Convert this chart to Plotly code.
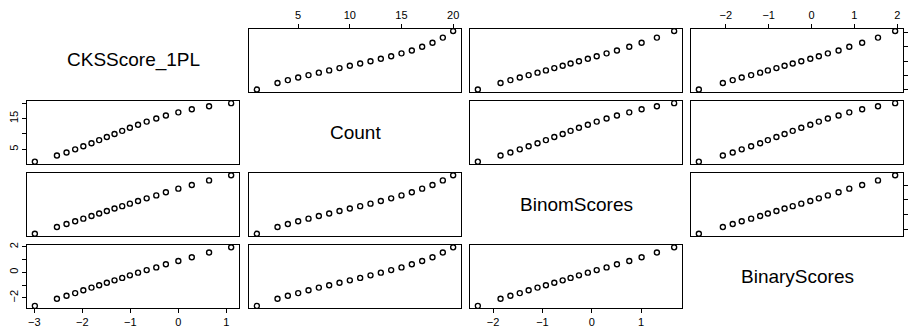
import plotly.graph_objects as go

# ---- data ----
var_names = ["CKSScore_1PL", "Count", "BinomScores", "BinaryScores"]
cks_score = [-2.99, -2.53, -2.33, -2.15, -1.98, -1.81, -1.65, -1.49, -1.33, -1.17,
             -1.01, -0.84, -0.66, -0.46, -0.26, 0.00, 0.28, 0.64, 1.10]
count = [1, 3, 4, 5, 6, 7, 8, 9, 10, 11, 12, 13, 14, 15, 16, 17, 18, 19, 20]
binom_scores = [-2.31, -1.85, -1.65, -1.46, -1.28, -1.10, -0.93, -0.76, -0.59, -0.43,
                -0.26, -0.08, 0.10, 0.30, 0.51, 0.76, 1.01, 1.32, 1.67]
binary_scores = [-2.63, -2.07, -1.84, -1.63, -1.41, -1.20, -1.02, -0.82, -0.63, -0.44,
                 -0.24, -0.03, 0.17, 0.38, 0.63, 0.88, 1.18, 1.55, 1.95]

cks_ticks = [-3, -2, -1, 0, 1]
count_ticks = [5, 10, 15, 20]
binom_ticks = [-2, -1, 0, 1]
binary_ticks = [-2, -1, 0, 1, 2]

data = [cks_score, count, binom_scores, binary_scores]
ticks = [cks_ticks, count_ticks, binom_ticks, binary_ticks]
# labels shown on the left (rotated) axes, where R drops overlapping ones
left_labels = {1: ["5", "", "15", ""], 3: ["\u22122", "", "0", "", "2"]}


def fmt(v):
    return ("\u2212" + str(-v)) if v < 0 else str(v)


# ---- layout geometry ----
W, H = 909, 328
col_px = [(27, 239), (249, 461), (470, 682), (691, 903)]
row_px = [(26, 90), (99, 163), (172, 236), (245, 309)]

FONT = "Liberation Sans, Arial, Helvetica, sans-serif"

fig = go.Figure()
layout = dict(
    width=W, height=H,
    margin=dict(l=0, r=0, t=0, b=0),
    paper_bgcolor="white", plot_bgcolor="white",
    showlegend=False,
    font=dict(family=FONT, size=11, color="black"),
)


def rng(v):
    lo, hi = min(v), max(v)
    p = 0.04 * (hi - lo)
    return [lo - p, hi + p]


annotations = []
for i in range(4):
    for j in range(4):
        k = i * 4 + j + 1
        xs = "" if k == 1 else str(k)
        xd = [col_px[j][0] / W, col_px[j][1] / W]
        yd = [1 - row_px[i][1] / H, 1 - row_px[i][0] / H]
        xa = dict(domain=xd, anchor="y" + xs, showgrid=False, zeroline=False,
                  showline=True, mirror=True, linecolor="black", linewidth=1,
                  ticks="", showticklabels=False, fixedrange=True)
        ya = dict(domain=yd, anchor="x" + xs, showgrid=False, zeroline=False,
                  showline=True, mirror=True, linecolor="black", linewidth=1,
                  ticks="", showticklabels=False, fixedrange=True)
        if i == j:
            xa["range"] = [0, 1]
            ya["range"] = [0, 1]
            annotations.append(dict(
                x=(xd[0] + xd[1]) / 2, y=(yd[0] + yd[1]) / 2,
                xref="paper", yref="paper", text=var_names[i], showarrow=False,
                font=dict(family=FONT, size=19, color="black"),
                xanchor="center", yanchor="middle"))
        else:
            xa["range"] = rng(data[j])
            ya["range"] = rng(data[i])
            fig.add_trace(go.Scatter(
                x=data[j], y=data[i], mode="markers",
                xaxis="x" + xs, yaxis="y" + xs,
                marker=dict(symbol="circle-open", size=5, color="black",
                            line=dict(width=1.4, color="black")),
                hoverinfo="skip"))
        tickcommon = dict(ticks="outside", ticklen=4, tickwidth=1,
                          tickcolor="black",
                          tickfont=dict(family=FONT, size=11, color="black"))
        # top axes (row 0, odd columns)
        if i == 0 and j % 2 == 1:
            xa.update(side="top", showticklabels=True, tickvals=ticks[j],
                      ticktext=[fmt(v) for v in ticks[j]], **tickcommon)
        # bottom axes (row 3, even columns)
        if i == 3 and j % 2 == 0:
            xa.update(side="bottom", showticklabels=True, tickvals=ticks[j],
                      ticktext=[fmt(v) for v in ticks[j]], **tickcommon)
        # left axes (col 0, odd rows)
        if j == 0 and i % 2 == 1:
            ya.update(side="left", showticklabels=True, tickvals=ticks[i],
                      ticktext=left_labels[i], tickangle=-90, **tickcommon)
        # right axes (col 3, even rows): labels fall outside the window
        if j == 3 and i % 2 == 0:
            ya.update(side="right", showticklabels=False, tickvals=ticks[i],
                      ticks="outside", ticklen=4, tickwidth=1, tickcolor="black")
        layout["xaxis" + xs] = xa
        layout["yaxis" + xs] = ya

layout["annotations"] = annotations
fig.update_layout(**layout)
fig.write_html(
    "out.html",
    config={"displayModeBar": False},
    post_script="document.body.style.margin='0';document.body.style.overflow='hidden';",
)
